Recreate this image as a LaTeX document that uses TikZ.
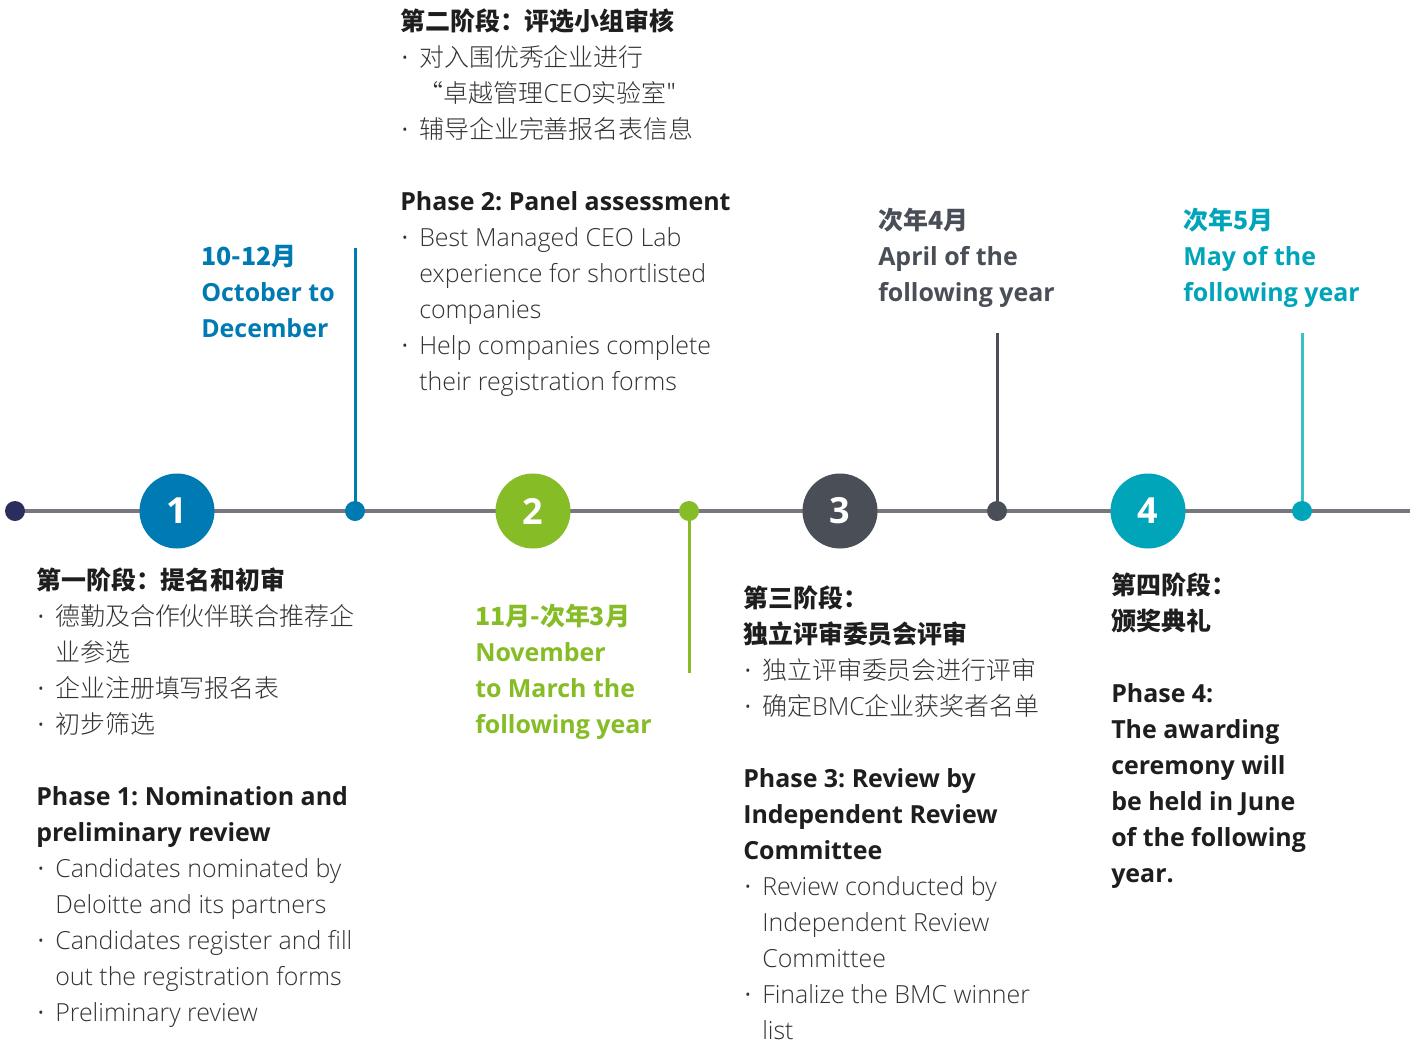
\documentclass[tikz,border=0pt]{standalone}
\usepackage{fontspec}
\setmainfont{Open Sans}
\newfontfamily\lightfont{Open Sans Light}
\newfontfamily\cjk{Noto Sans CJK SC}
\newfontfamily\cjklight{Noto Sans CJK SC Light}
\usetikzlibrary{backgrounds}
\frenchspacing
\definecolor{dblue}{HTML}{007AB3}
\definecolor{dgreen}{HTML}{86BC25}
\definecolor{ddark}{HTML}{494E57}
\definecolor{dteal}{HTML}{00A5BA}
\definecolor{dtealline}{HTML}{3CBFC5}
\definecolor{dnavy}{HTML}{2B2E5C}
\definecolor{lgray}{HTML}{76787D}
\definecolor{head}{HTML}{1E1E1E}
\definecolor{body}{HTML}{333333}
% one line of a text block
\newcommand\hd[1]{{\normalfont\bfseries\color{head}#1}}
\newcommand\hdc[1]{{\cjk\bfseries\color{head}#1}}
\newcommand\dotmark{\makebox[14.25pt][l]{\normalfont\hspace*{1pt}·}}
\newcommand\bl[1]{{\lightfont\color{body}\dotmark#1}}
\newcommand\blc[1]{{\lightfont\color{body}\dotmark\cjklight#1}}
\newcommand\cn[1]{{\lightfont\color{body}\hspace*{14.25pt}#1}}
\newcommand\cnc[1]{{\cjklight\color{body}\hspace*{14.25pt}#1}}
\tikzset{
  % base of a block = baseline of its last line
  block/.style={anchor=base west,inner sep=0,align=left,font=\fontsize{18.7}{27}\selectfont},
  when/.style={block,font=\fontsize{18.7}{27}\selectfont\bfseries},
  phasenum/.style={circle,minimum size=56.25pt,inner sep=0,text=white,font=\fontsize{27}{27}\selectfont\bfseries},
  dot/.style={circle,minimum size=15pt,inner sep=0},
  timeline/.style={draw=lgray,line width=3pt},
  tick/.style={line width=2.25pt},
}
\begin{document}
\begin{tikzpicture}[x=0.75pt,y=-0.75pt]
\useasboundingbox (0,0) rectangle (1420,1042);
% markers on the time line
\node[dot,fill=dnavy] (d0) at (15,511) {};
\node[phasenum,fill=dblue] (p1) at (177,511) {1};
\node[dot,fill=dblue] (d1) at (355,511) {};
\node[phasenum,fill=dgreen] (p2) at (533,511) {2};
\node[dot,fill=dgreen] (d2) at (689,511) {};
\node[phasenum,fill=ddark] (p3) at (840,511) {3};
\node[dot,fill=ddark] (d3) at (997,511) {};
\node[phasenum,fill=dteal] (p4) at (1148,511) {4};
\node[dot,fill=dteal] (d4) at (1302,511) {};
\coordinate (tend) at (1410,511);
\coordinate (t1) at (355,248);
\coordinate (t2) at (689,673);
\coordinate (t3) at (997,333);
\coordinate (t4) at (1302,333);
\begin{scope}[on background layer]
\fill[white] (0,0) rectangle (1420,1042);
\draw[timeline] (d0.center) -- (tend);
\draw[tick,dblue] (d1.center) -- (t1);
\draw[tick,dgreen] (d2.center) -- (t2);
\draw[tick,ddark] (d3.center) -- (t3);
\draw[tick,dtealline] (d4.center) -- (t4);
\end{scope}
% dates
\node[when,text=dblue] (w1) at (201,337) {{\cjk 10-12月}\\October to\\December};
\node[when,text=dgreen] (w2) at (475,733) {{\cjk 11月-次年3月}\\November\\to March the\\following year};
\node[when,text=ddark] (w3) at (878,301) {{\cjk 次年4月}\\April of the\\following year};
\node[when,text=dteal] (w4) at (1183,301) {{\cjk 次年5月}\\May of the\\following year};
% phase texts
\node[block] (s1) at (36,1021) {\hdc{第一阶段：提名和初审}\\
\blc{德勤及合作伙伴联合推荐企}\\
\cnc{业参选}\\
\blc{企业注册填写报名表}\\
\blc{初步筛选}\\[27pt]
\hd{Phase 1: Nomination and}\\
\hd{preliminary review}\\
\bl{Candidates nominated by}\\
\cn{Deloitte and its partners}\\
\bl{Candidates register and fill}\\
\cn{out the registration forms}\\
\bl{Preliminary review}};
\node[block] (s2) at (400,390) {\hdc{第二阶段：评选小组审核}\\
\blc{对入围优秀企业进行}\\
{\cjklight\color{body}\hspace*{14pt}“卓越管理{\lightfont CEO}实验室"}\\
\blc{辅导企业完善报名表信息}\\[27pt]
\hd{Phase 2: Panel assessment}\\
\bl{Best Managed CEO Lab}\\
\cn{experience for shortlisted}\\
\cn{companies}\\
\bl{Help companies complete}\\
\cn{their registration forms}};
\node[block] (s3) at (743,1039) {\hdc{第三阶段：}\\
\hdc{独立评审委员会评审}\\
\blc{独立评审委员会进行评审}\\
\blc{确定{\lightfont BMC}企业获奖者名单}\\[27pt]
\hd{Phase 3: Review by}\\
\hd{Independent Review}\\
\hd{Committee}\\
\bl{Review conducted by}\\
\cn{Independent Review}\\
\cn{Committee}\\
\bl{Finalize the BMC winner}\\
\cn{list}};
\node[block] (s4) at (1111,882) {\hdc{第四阶段：}\\
\hdc{颁奖典礼}\\[27pt]
\hd{Phase 4:}\\
\hd{The awarding}\\
\hd{ceremony will}\\
\hd{be held in June}\\
\hd{of the following}\\
\hd{year.}};
\end{tikzpicture}
\end{document}
